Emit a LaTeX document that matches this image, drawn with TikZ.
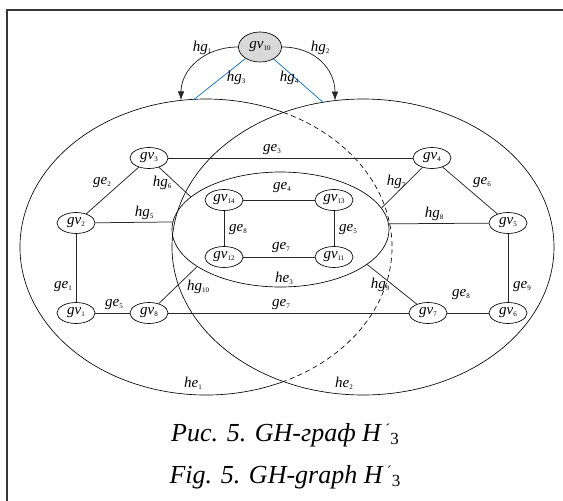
\documentclass[tikz,border=0pt]{standalone}
\usepackage{fontspec}
\setmainfont{Liberation Serif}
\usetikzlibrary{shapes.geometric,arrows.meta}
\definecolor{linkblue}{RGB}{25,115,200}
\definecolor{framegray}{RGB}{55,55,55}
\definecolor{rootfill}{RGB}{217,217,217}
% italic name with a small upright index
\newcommand{\gl}[2]{\textit{#1}\raisebox{-1.8pt}{\fontsize{7}{7}\selectfont #2}}
\newcommand{\Hprime}{\textit{H}\,\raisebox{7pt}{\fontsize{15}{15}\selectfont\upshape ´}\raisebox{-3pt}{\fontsize{17}{17}\selectfont\upshape 3}}

\begin{document}
\begin{tikzpicture}[x=1pt,y=-1pt,
  vtx/.style={draw, ellipse, minimum width=38pt, minimum height=21pt, inner sep=0pt,
              line width=0.65pt, font=\fontsize{15}{15}\selectfont},
  lbl/.style={inner sep=0pt, font=\fontsize{15}{15}\selectfont},
  edge/.style={line width=0.75pt, black!85},
  hyper/.style={line width=0.65pt},
  link/.style={line width=0.75pt, linkblue},
  caption/.style={inner sep=0pt, anchor=base, font=\fontsize{26}{26}\selectfont\itshape}]

\useasboundingbox (0,0) rectangle (563,501);

% frame
\draw[framegray, line width=1.3pt] (7,501) -- (7,10) -- (563,10);

% hyperedges he1 and he2
\draw[hyper] (206,247) ++(65.5:186 and 148)
  arc[start angle=65.5, end angle=294.5, x radius=186, y radius=148];
\draw[hyper, dash pattern=on 5pt off 3.5pt] (206,247) ++(-65.5:186 and 148)
  arc[start angle=-65.5, end angle=65.5, x radius=186, y radius=148];
\draw[hyper] (363,247) ellipse[x radius=191, y radius=148];

% inner hyperedge he3
\node[draw, ellipse, line width=0.65pt, minimum width=217pt, minimum height=115pt, inner sep=0pt]
  (he3) at (280.5,229.5) {};

% vertices
\node[vtx] (gv1) at (76,313) {\gl{gv}{1}};
\node[vtx] (gv2) at (76,223) {\gl{gv}{2}};
\node[vtx] (gv3) at (149,158) {\gl{gv}{3}};
\node[vtx] (gv4) at (432,158) {\gl{gv}{4}};
\node[vtx] (gv5) at (508,223) {\gl{gv}{5}};
\node[vtx] (gv6) at (508,313) {\gl{gv}{6}};
\node[vtx] (gv7) at (428,313) {\gl{gv}{7}};
\node[vtx] (gv8) at (149,313) {\gl{gv}{8}};
\node[vtx] (gv11) at (334,257) {\gl{gv}{11}};
\node[vtx] (gv12) at (224,257) {\gl{gv}{12}};
\node[vtx] (gv13) at (334,200) {\gl{gv}{13}};
\node[vtx] (gv14) at (224,200) {\gl{gv}{14}};
\node[vtx, fill=rootfill, minimum width=43pt, minimum height=30pt] (gv10) at (260,47) {\gl{gv}{10}};

% attachment points on he1 and he2
\coordinate (tipA) at (181,100.3);
\coordinate (tipB) at (335,100.6);
\coordinate (endA) at (194,99.4);
\coordinate (endB) at (323,102.3);

% edges
\draw[edge] (gv1) -- (gv2);
\draw[edge] (gv2) -- (gv3);
\draw[edge] (gv3) -- (gv4);
\draw[edge] (gv1) -- (gv8);
\draw[edge] (gv8) -- (gv7);
\draw[edge] (gv7) -- (gv6);
\draw[edge] (gv6) -- (gv5);
\draw[edge] (gv5) -- (gv4);
\draw[edge] (gv14) -- (gv13);
\draw[edge] (gv14) -- (gv12);
\draw[edge] (gv12) -- (gv11);
\draw[edge] (gv13) -- (gv11);

% links between vertices and hyperedges
\draw[edge] (gv3) -- (he3.160);
\draw[edge] (gv2) -- (he3.176.6);
\draw[edge] (gv8) -- (he3.204.2);
\draw[edge] (gv4) -- (he3.12.5);
\draw[edge] (he3.3.4) -- (gv5);
\draw[edge] (he3.338.8) -- (gv7);

\draw[edge, -{Latex[length=9pt,width=6.5pt]}] (gv10.west) .. controls (204,47) and (181,70) .. (tipA);
\draw[edge, -{Latex[length=9pt,width=6.5pt]}] (gv10.east) .. controls (316,47) and (335,70) .. (tipB);
\draw[link] (gv10) -- (endA);
\draw[link] (gv10) -- (endB);

% labels
\node[lbl] (l-hg1) at (202,48) {\gl{hg}{1}};
\node[lbl] (l-hg2) at (320,48) {\gl{hg}{2}};
\node[lbl] (l-hg3) at (236,78) {\gl{hg}{3}};
\node[lbl] (l-hg4) at (289,78) {\gl{hg}{4}};
\node[lbl] (l-ge3) at (272,150) {\gl{ge}{3}};
\node[lbl] (l-ge2) at (102,183) {\gl{ge}{2}};
\node[lbl] (l-hg6) at (162,183) {\gl{hg}{6}};
\node[lbl] (l-hg5) at (144,213) {\gl{hg}{5}};
\node[lbl] (l-ge1) at (63,287) {\gl{ge}{1}};
\node[lbl] (l-ge5) at (114,305) {\gl{ge}{5}};
\node[lbl] (l-hg10) at (198,287) {\gl{hg}{10}};
\node[lbl] (l-ge8i) at (238,230) {\gl{ge}{8}};
\node[lbl] (l-ge4) at (282,188) {\gl{ge}{4}};
\node[lbl] (l-ge7i) at (281,248) {\gl{ge}{7}};
\node[lbl] (l-he3) at (284,278) {\gl{he}{3}};
\node[lbl] (l-ge7) at (281,305) {\gl{ge}{7}};
\node[lbl] (l-ge5i) at (348,230) {\gl{ge}{5}};
\node[lbl] (l-hg7) at (396,182) {\gl{hg}{7}};
\node[lbl] (l-ge6) at (482,183) {\gl{ge}{6}};
\node[lbl] (l-hg8) at (434,214) {\gl{hg}{8}};
\node[lbl] (l-hg9) at (380,285) {\gl{hg}{9}};
\node[lbl] (l-ge8) at (461,295) {\gl{ge}{8}};
\node[lbl] (l-ge9) at (522,287) {\gl{ge}{9}};
\node[lbl] (l-he1) at (193,383) {\gl{he}{1}};
\node[lbl] (l-he2) at (344,383) {\gl{he}{2}};

% caption
\node[caption] (cap-ru) at (285,441) {Рис. 5. GH-граф \Hprime};
\node[caption] (cap-en) at (285,483) {Fig. 5. GH-graph \Hprime};
\end{tikzpicture}
\end{document}
